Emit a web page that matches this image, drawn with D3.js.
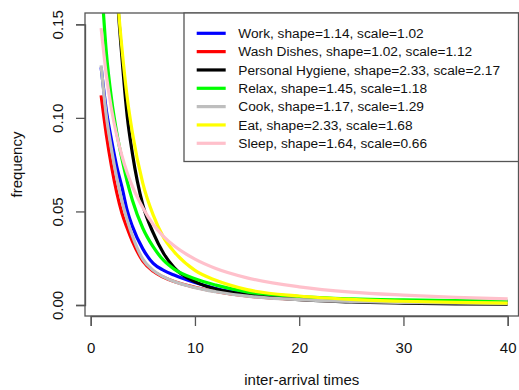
<!DOCTYPE html>
<html>
<head>
<meta charset="utf-8">
<script src="https://cdn.jsdelivr.net/npm/d3@7"></script>
<style>
  body { margin: 0; background: #fff; }
  svg { display: block; font-family: "Liberation Sans", Arial, sans-serif; }
</style>
</head>
<body>
<div id="vis"></div>
<script>
// inter-arrival time curves

const times = [1, 1.5, 2, 2.5, 3, 3.5, 4, 5, 6, 7, 8, 10, 12, 15, 20, 25, 30, 35, 40];

const work     = [0.127, 0.104, 0.088, 0.074, 0.063, 0.0505, 0.042, 0.030, 0.0222, 0.0185, 0.016, 0.012, 0.0088, 0.0058, 0.0036, 0.0027, 0.0022, 0.0019, 0.0017];
const wash     = [0.112, 0.091, 0.074, 0.060, 0.049, 0.041, 0.034, 0.0235, 0.018, 0.0148, 0.0125, 0.0095, 0.0072, 0.0048, 0.0030, 0.0020, 0.0015, 0.0011, 0.0008];
const hygiene  = [0.50, 0.35, 0.23, 0.17, 0.132, 0.101, 0.081, 0.0535, 0.0385, 0.0275, 0.020, 0.0125, 0.0085, 0.0055, 0.0028, 0.0016, 0.0010, 0.0006, 0.0004];
const relax    = [0.175, 0.135, 0.110, 0.092, 0.078, 0.066, 0.056, 0.041, 0.031, 0.0238, 0.0192, 0.014, 0.0106, 0.0070, 0.0045, 0.0033, 0.0027, 0.0023, 0.0021];
const cook     = [0.128, 0.101, 0.083, 0.068, 0.0555, 0.0455, 0.037, 0.0245, 0.0185, 0.015, 0.0125, 0.0093, 0.0071, 0.0047, 0.0029, 0.0019, 0.0014, 0.0011, 0.0009];
const eat      = [0.45, 0.32, 0.22, 0.17, 0.137, 0.111, 0.092, 0.065, 0.048, 0.036, 0.0285, 0.0185, 0.0132, 0.0082, 0.0048, 0.0030, 0.0020, 0.0014, 0.0010];
const sleep    = [0.148, 0.1228, 0.1045, 0.0906, 0.0796, 0.0707, 0.0634, 0.052, 0.043, 0.0366, 0.0316, 0.0245, 0.0195, 0.0145, 0.0097, 0.0069, 0.0053, 0.0041, 0.0033];

const names  = ['Work', 'Wash Dishes', 'Personal Hygiene', 'Relax', 'Cook', 'Eat', 'Sleep'];
const shapes = ['1.14', '1.02', '2.33', '1.45', '1.17', '2.33', '1.64'];
const scales = ['1.02', '1.12', '2.17', '1.18', '1.29', '1.68', '0.66'];
const colors = ['#0000ff', '#ff0000', '#000000', '#00ff00', '#bebebe', '#ffff00', '#ffc0cb'];
const seriesValues = [work, wash, hygiene, relax, cook, eat, sleep];

const xTicks = [0, 10, 20, 30, 40];
const yTicks = [0, 0.05, 0.10, 0.15];

const W = 519, H = 390;
const box = { left: 85, right: 518.5, top: 13, bottom: 316 };
const axisCol = '#555';

const svg = d3.select('#vis').append('svg')
  .attr('width', W).attr('height', H);

const x = d3.scaleLinear().domain([0, 40]).range([90.7, 507.7]);
const y = d3.scaleLinear().domain([0, 0.15]).range([305, 24.3]);

// clip to plotting region
svg.append('clipPath').attr('id', 'plotclip')
  .append('rect')
  .attr('x', box.left).attr('y', box.top)
  .attr('width', box.right - box.left).attr('height', box.bottom - box.top);

const line = d3.line()
  .x(d => x(d[0]))
  .y(d => y(d[1]))
  .curve(d3.curveMonotoneX);

const curves = svg.append('g').attr('clip-path', 'url(#plotclip)');
seriesValues.forEach((vals, i) => {
  curves.append('path')
    .datum(times.map((t, j) => [t, vals[j]]))
    .attr('d', line)
    .attr('fill', 'none')
    .attr('stroke', colors[i])
    .attr('stroke-width', 3.2);
});

// box
svg.append('rect')
  .attr('x', box.left).attr('y', box.top)
  .attr('width', box.right - box.left).attr('height', box.bottom - box.top)
  .attr('fill', 'none').attr('stroke', axisCol).attr('stroke-width', 1.3);

// x axis
const xAxis = svg.append('g')
  .attr('transform', `translate(0,${box.bottom})`)
  .call(d3.axisBottom(x).tickValues(xTicks).tickSize(10).tickPadding(16).tickFormat(d3.format('d')));
xAxis.select('.domain').attr('stroke', axisCol).attr('stroke-width', 1.3);
xAxis.selectAll('.tick line').attr('stroke', axisCol).attr('stroke-width', 1.3);
xAxis.selectAll('.tick text').attr('font-size', 15).attr('fill', '#111')
  .attr('font-family', '"Liberation Sans", Arial, sans-serif');

// y axis
const yAxis = svg.append('g')
  .attr('transform', `translate(${box.left},0)`)
  .call(d3.axisLeft(y).tickValues(yTicks).tickSize(9).tickFormat(d3.format('.2f')));
yAxis.select('.domain').attr('stroke', axisCol).attr('stroke-width', 1.3);
yAxis.selectAll('.tick line').attr('stroke', axisCol).attr('stroke-width', 1.3);
yAxis.selectAll('.tick text')
  .attr('font-size', 15).attr('fill', '#111')
  .attr('font-family', '"Liberation Sans", Arial, sans-serif')
  .attr('x', null).attr('dy', null)
  .attr('text-anchor', 'middle')
  .attr('transform', `translate(${62.5 - box.left},0) rotate(-90)`);

// axis titles
svg.append('text')
  .attr('x', (box.left + box.right) / 2).attr('y', 385)
  .attr('text-anchor', 'middle').attr('font-size', 15).attr('fill', '#111')
  .text('inter-arrival times');

svg.append('text')
  .attr('transform', `translate(22,${(box.top + box.bottom) / 2}) rotate(-90)`)
  .attr('text-anchor', 'middle').attr('font-size', 15).attr('fill', '#111')
  .text('frequency');

// legend
const leg = svg.append('g');
leg.append('rect')
  .attr('x', 184).attr('y', box.top)
  .attr('width', box.right - 184).attr('height', 148.5)
  .attr('fill', '#fff').attr('stroke', axisCol).attr('stroke-width', 1.3);

names.forEach((n, i) => {
  const ry = 33.3 + i * 18.33;
  leg.append('line')
    .attr('x1', 196.7).attr('x2', 225.7)
    .attr('y1', ry).attr('y2', ry)
    .attr('stroke', colors[i]).attr('stroke-width', 3.2);
  leg.append('text')
    .attr('x', 238.3).attr('y', ry).attr('dy', '0.35em')
    .attr('font-size', 13.7).attr('fill', '#111')
    .text(`${n}, shape=${shapes[i]}, scale=${scales[i]}`);
});
</script>
</body>
</html>
